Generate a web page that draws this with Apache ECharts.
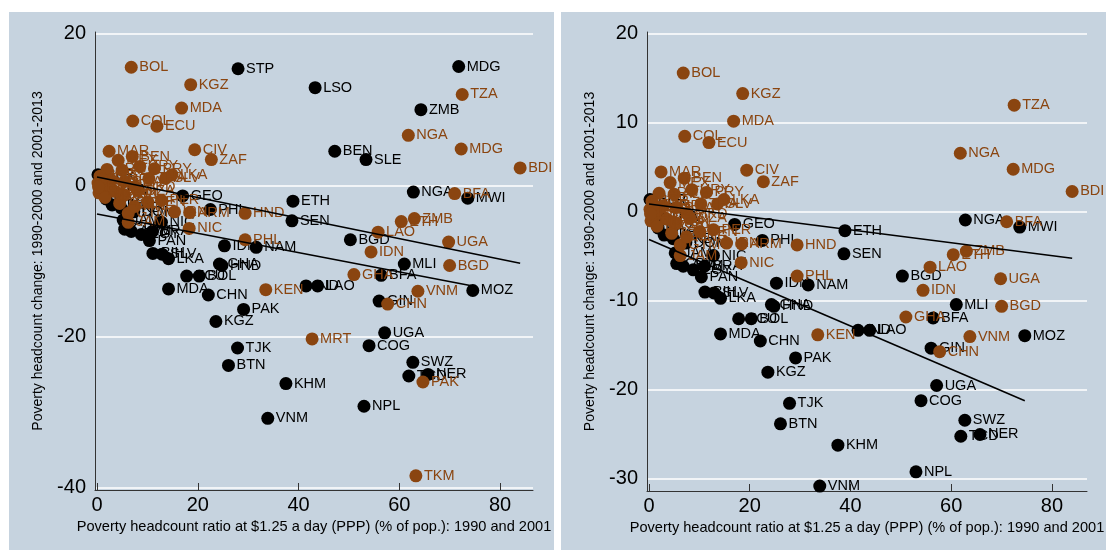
<!DOCTYPE html>
<html><head><meta charset="utf-8">
<script src="https://cdn.jsdelivr.net/npm/echarts@6/dist/echarts.min.js"></script>
<style>html,body{margin:0;padding:0;background:#fff}#c{width:1108px;height:550px}</style>
</head><body><div id="c"></div>
<script>
// ---- data: 1990-2000 change (brown) ----
const codes1990 = ['BOL','KGZ','MDA','COL','ECU','MAR','BEN','MEX','CIV','ZAF','ARG','ALB','URY','PRY','LKA','SLV','THA','JOR','TUR','BRA','MKD','RUS','POL','UKR','ROU','BLR','KAZ','CRI','AZE','MYS','VEN','PER','GTM','JAM','IRN','ARM','HND','NIC','PHL','NGA','TZA','MDG','BDI','BFA','ZMB','ETH','LAO','IDN','UGA','BGD','GHA','VNM','CHN','KEN','MRT','PAK','TKM','TUN','DZA','MNG','EST'];
const x1990 = [6.8,18.6,16.8,7.1,11.9,2.4,7.0,4.2,19.4,22.7,2.0,5.0,8.5,11.4,14.9,13.6,10.3,0.6,2.8,5.5,7.6,0.2,1.2,0.4,1.8,0.9,3.5,5.4,4.5,1.6,10.1,12.8,6.2,6.2,15.4,18.4,29.4,18.3,29.4,61.8,72.5,72.3,84.0,71.0,63.0,60.4,55.8,54.4,69.8,70.0,51.0,63.7,57.7,33.5,42.7,64.7,63.3,4.8,8.1,7.5,0.3];
const y1990 = [15.6,13.3,10.2,8.5,7.8,4.5,3.8,3.3,4.7,3.4,2.1,2.0,2.5,2.2,1.4,0.9,0.9,1.2,0.7,0.5,-0.2,0.3,-0.4,-1.0,0.2,0.8,-0.8,-1.3,-2.4,-1.6,-2.2,-2.0,-3.7,-4.9,-3.5,-3.6,-3.7,-5.7,-7.2,6.6,12.0,4.8,2.3,-1.1,-4.4,-4.8,-6.2,-8.8,-7.5,-10.6,-11.8,-14.0,-15.7,-13.8,-20.3,-26.0,-38.4,-1.1,-0.7,-2.8,-0.2];
// ---- data: 2001-2013 change (black) ----
const codes2001 = ['STP','LSO','MDG','ZMB','BEN','SLE','NGA','MWI','ETH','SEN','BGD','MLI','BFA','MOZ','GIN','UGA','COG','SWZ','TCD','NER','NPL','KHM','VNM','TJK','BTN','KGZ','PAK','CHN','MDA','ECU','BOL','GHA','HND','IDN','NAM','IND','LAO','GEO','PHL','DOM','NIC','EGY','BRA','PAN','BIH','SLV','LKA','CPV','ARM','UKR','MKD','BLR','KAZ','THA','JAM'];
const x2001 = [28.0,43.3,71.8,64.3,47.2,53.4,62.8,73.6,38.9,38.7,50.3,61.0,56.4,74.6,56.0,57.1,54.0,62.7,61.9,65.7,53.0,37.5,33.9,27.9,26.1,23.6,29.1,22.1,14.2,17.8,20.3,24.3,24.8,25.3,31.6,41.5,43.8,17.0,22.5,7.3,12.8,8.8,11.0,10.4,11.1,12.9,14.2,5.5,6.8,3.0,4.8,0.2,1.8,2.5,5.2];
const y2001 = [15.4,12.9,15.7,10.0,4.5,3.4,-0.9,-1.7,-2.1,-4.7,-7.2,-10.4,-11.9,-13.9,-15.3,-19.5,-21.2,-23.4,-25.2,-25.0,-29.2,-26.2,-30.8,-21.5,-23.8,-18.0,-16.4,-14.5,-13.7,-12.0,-12.0,-10.4,-10.6,-8.0,-8.2,-13.3,-13.3,-1.4,-3.2,-3.5,-4.9,-6.5,-6.1,-7.3,-9.0,-9.1,-9.7,-5.8,-6.1,-2.6,-3.0,1.4,-1.8,-0.6,-4.6];
// countries left out of the right-hand panel
const dropRight1990 = ['MRT','PAK','TKM'];
const dropRight2001 = ['STP','LSO','MDG','ZMB','BEN','SLE'];
// fitted lines (endpoints)
const fitLeft1990 = [[0,1.1],[84.0,-10.3]];
const fitLeft2001 = [[0,-3.8],[74.6,-13.3]];
const fitRight1990 = [[0,0.9],[84.0,-5.2]];
const fitRight2001 = [[0,-3.1],[74.6,-21.2]];
// ticks
const xTicks = [0,20,40,60,80];
const yTicksLeft = [-40,-20,0,20];
const yTicksRight = [-30,-20,-10,0,10,20];
const xTitle = 'Poverty headcount ratio at $1.25 a day (PPP) (% of pop.): 1990 and 2001';
const yTitle = 'Poverty headcount change: 1990-2000 and 2001-2013';

const FONT = "'Liberation Sans', Arial, sans-serif";
const BROWN = '#8a4510';
const BG = '#c6d3df';

function pts(codes, xs, ys, drop) {
  const out = [];
  codes.forEach((c, i) => { if (!drop || drop.indexOf(c) < 0) out.push({ name: c, value: [xs[i], ys[i]] }); });
  return out;
}
function scatter(idx, data, color, z) {
  return {
    type: 'scatter', xAxisIndex: idx, yAxisIndex: idx, data: data, z: z,
    symbol: 'circle', symbolSize: 13, itemStyle: { color: color, opacity: 1 },
    label: { show: true, position: 'right', distance: 1.5, formatter: '{b}', color: color, fontSize: 14.5, fontFamily: FONT },
    emphasis: { disabled: true }, silent: true
  };
}
function fit(idx, data) {
  return { type: 'line', xAxisIndex: idx, yAxisIndex: idx, data: data, z: 5, symbol: 'none',
    lineStyle: { color: '#000', width: 1.6 }, silent: true };
}
function xAxis(idx, min, max) {
  return {
    gridIndex: idx, type: 'value', min: min, max: max,
    axisLine: { show: true, onZero: false, lineStyle: { color: '#333', width: 1 } },
    axisTick: { show: true, inside: true, length: 7, customValues: xTicks, lineStyle: { color: '#333' } },
    axisLabel: { customValues: xTicks, fontSize: 20, color: '#000', margin: 5, fontFamily: FONT },
    splitLine: { show: false },
    name: xTitle, nameLocation: 'middle', nameGap: 23,
    nameTextStyle: { fontSize: 14.6, color: '#000', fontFamily: FONT }
  };
}
function yAxis(idx, min, max, ticks) {
  return {
    gridIndex: idx, type: 'value', min: min, max: max,
    axisLine: { show: true, onZero: false, lineStyle: { color: '#333', width: 1 } },
    axisTick: { show: false, customValues: ticks },
    axisLabel: { customValues: ticks, fontSize: 20, color: '#000', margin: 9, fontFamily: FONT },
    splitLine: { show: true, lineStyle: { color: '#ffffff', width: 1.6 } },
    name: yTitle, nameLocation: 'middle', nameGap: 50,
    nameTextStyle: { fontSize: 14, color: '#000', fontFamily: FONT }
  };
}

const chart = echarts.init(document.getElementById('c'), null, { renderer: 'canvas' });
chart.setOption({
  animation: false,
  backgroundColor: '#ffffff',
  graphic: [
    { type: 'rect', z: -10, silent: true, shape: { x: 9, y: 12, width: 545, height: 538 }, style: { fill: BG } },
    { type: 'rect', z: -10, silent: true, shape: { x: 561, y: 12, width: 545, height: 538 }, style: { fill: BG } }
  ],
  grid: [
    { left: 95, top: 32, width: 438, height: 458 },
    { left: 647, top: 32, width: 440, height: 459 }
  ],
  xAxis: [ xAxis(0, -0.397, 86.55), xAxis(1, -0.397, 86.95) ],
  yAxis: [ yAxis(0, -40.27, 20.26, yTicksLeft), yAxis(1, -31.35, 20.22, yTicksRight) ],
  series: [
    scatter(0, pts(codes2001, x2001, y2001), '#000000', 2),
    scatter(0, pts(codes1990, x1990, y1990), BROWN, 3),
    fit(0, fitLeft1990), fit(0, fitLeft2001),
    scatter(1, pts(codes2001, x2001, y2001, dropRight2001), '#000000', 2),
    scatter(1, pts(codes1990, x1990, y1990, dropRight1990), BROWN, 3),
    fit(1, fitRight1990), fit(1, fitRight2001)
  ]
});
</script></body></html>
